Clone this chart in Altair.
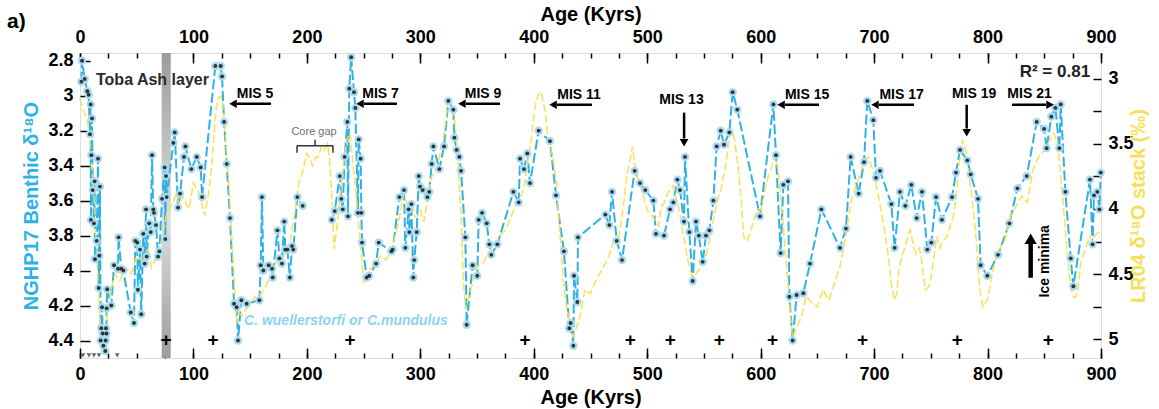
import altair as alt
import pandas as pd

# ---------------- data ----------------
blue_age = [1.2, 1.8, 4.1, 6.5, 7.6, 8.8, 9.4, 9.6, 10.0, 10.6, 11.2, 12.3, 12.9, 13.2, 14.7, 15.9, 16.5, 17.0, 17.6,
            18.2, 18.8, 19.4, 20.0, 20.6, 22.3, 22.6, 22.9, 23.3, 23.5, 24.0, 27.6, 30.0, 33.5, 34.0, 36.4, 38.2,
            44.7, 47.6, 48.8, 50.5, 51.0, 52.9, 54.0, 55.8, 57.0, 58.2, 58.8, 61.0, 62.3, 63.5, 64.6, 65.2, 67.0,
            68.8, 70.0, 72.3, 74.6, 75.2, 75.8, 76.4, 82.3, 83.5, 86.4, 88.2, 91.7, 92.9, 98.1, 102.9, 106.4, 107.6,
            119.3, 124.0, 125.2, 127.0, 129.3, 132.2, 135.8, 138.1, 139.3, 142.2, 146.9, 158.1, 159.3, 160.4, 161.6,
            166.3, 169.3, 169.9, 174.0, 175.8, 178.0, 180.0, 181.0, 182.8, 185.0, 186.9, 188.0, 191.6, 196.3,
            222.0, 224.5, 229.0, 230.4, 231.6, 233.3, 235.7, 236.2, 237.4, 239.0, 241.5, 242.7, 245.0, 245.7, 247.4,
            248.0, 248.6, 252.7, 255.0, 261.0, 263.3, 274.5, 275.6, 281.5, 285.6, 286.8, 289.7, 290.3, 292.1, 293.8,
            294.6, 296.8, 298.6, 299.7, 302.1, 306.2, 307.9, 310.0, 311.5, 316.8, 320.9, 324.7, 329.1, 330.0, 332.0,
            334.4, 335.9, 339.7, 340.8, 346.1, 350.2, 351.4, 354.4, 358.5, 360.8, 362.6, 367.9, 382.0, 386.7, 387.9,
            391.4, 394.3, 396.7, 404.3, 414.3, 419.6, 426.6, 431.3, 432.5, 434.9, 435.5, 438.4, 439.0, 463.1, 466.6,
            469.0, 473.1, 477.8, 488.9, 493.6, 498.3, 505.4, 507.7, 514.8, 520.1, 523.0, 526.6, 528.9, 532.4, 533.3,
            537.1, 540.1, 543.0, 545.4, 548.9, 551.8, 554.8, 558.3, 561.2, 564.8, 567.7, 572.4, 575.3, 579.4, 599.4,
            611.2, 613.5, 617.6, 620.0, 624.1, 625.3, 628.2, 631.7, 637.6, 643.5, 653.5, 669.9, 675.2, 679.3, 686.4,
            691.1, 694.0, 699.3, 701.7, 705.2, 715.2, 718.1, 722.8, 727.5, 732.8, 737.5, 742.2, 746.9, 750.4, 754.6,
            759.8, 768.7, 772.2, 775.7, 782.2, 785.1, 791.6, 793.9, 799.8, 809.2, 819.2, 826.3, 834.5, 843.3, 849.8,
            852.1, 856.2, 859.8, 863.3, 864.5, 868.6, 873.3, 875.6, 890.3, 892.6, 893.8, 896.8, 898.6, 899.8]
blue_val = [2.92, 2.80, 2.905, 2.975, 2.995, 3.22, 3.05, 3.71, 3.34, 3.13, 3.54, 3.73, 3.49, 3.935, 3.83, 3.36, 4.10,
            3.915, 3.52, 4.40, 4.33, 4.21, 4.36, 4.43, 4.46, 4.40, 4.33, 4.36, 4.216, 4.107, 4.20, 3.97, 3.99, 3.81,
            3.99, 4.00, 4.24, 4.30, 3.83, 3.84, 4.11, 3.88, 4.25, 3.79, 3.96, 3.65, 3.92, 3.73, 3.78, 3.34, 3.65,
            3.67, 3.74, 3.92, 3.89, 3.59, 3.41, 3.82, 3.46, 3.58, 3.27, 3.21, 3.64, 3.56, 3.35, 3.29, 3.42, 3.35,
            3.41, 3.58, 2.83, 2.83, 2.89, 3.15, 3.39, 3.70, 4.19, 4.21, 4.40, 4.17, 4.19, 4.17, 3.97, 3.58, 4.00,
            3.97, 3.99, 4.04, 3.77, 3.93, 3.96, 3.72, 3.88, 3.88, 4.04, 3.86, 3.88, 3.58, 3.63,
            3.71, 3.66, 3.46, 3.59, 3.65, 3.35, 3.15, 3.69, 2.96, 2.78, 2.98, 3.07, 3.67, 3.25, 3.36, 3.67, 3.84,
            4.04, 4.03, 3.96, 3.84, 3.89, 3.88, 3.58, 3.54, 3.87, 3.65, 3.78, 3.62, 4.04, 3.94, 3.78, 3.46, 3.52,
            3.54, 3.58, 3.55, 3.39, 3.29, 3.42, 3.29, 3.03, 3.08, 3.24, 3.31, 3.35, 3.43, 3.81, 4.31, 3.97, 4.03,
            3.71, 3.67, 3.73, 3.85, 3.91, 3.85, 3.55, 3.61, 3.36, 3.42, 3.33, 3.50, 3.20, 3.26, 3.57, 3.89, 4.33,
            4.30, 4.43, 4.03, 4.18, 3.81, 3.68, 3.74, 3.55, 3.83, 3.94, 3.43, 3.50, 3.54, 3.60, 3.79, 3.80, 3.65,
            3.61, 3.48, 3.54, 3.72, 3.35, 3.78, 4.06, 3.72, 3.80, 3.95, 3.80, 3.77, 3.60, 3.29, 3.20, 3.28, 3.21,
            2.98, 3.08, 3.69, 3.05, 3.34, 3.90, 3.51, 3.49, 4.15, 4.40, 4.14, 4.13, 3.96, 3.65, 3.87, 3.76, 3.35,
            3.56, 3.38, 3.03, 3.14, 3.47, 3.43, 3.62, 3.87, 3.55, 3.63, 3.51, 3.70, 3.55, 3.88, 3.84, 3.58, 3.71,
            3.58, 3.44, 3.31, 3.37, 3.45, 3.59, 3.97, 4.03, 3.91, 3.73, 3.53, 3.46, 3.15, 3.19, 3.30, 3.12, 3.07,
            3.30, 3.05, 3.55, 3.93, 4.09, 3.48, 3.85, 3.57, 3.55, 3.65, 3.44]

lr04_age = [0, 3, 6, 9, 12, 15, 18, 20, 22, 25, 28, 31, 35, 40, 45, 50, 55, 60, 63, 65, 68, 70, 73, 76, 79, 82, 85,
            88, 90, 93, 96, 100, 103, 106, 110, 113, 116, 118, 120, 122, 124, 126, 128, 130, 132, 134, 136, 138,
            140, 143, 146, 150, 155, 160, 165, 170, 175, 180, 185, 188, 190, 193, 196, 200, 203, 205, 208, 210,
            213, 215, 218, 220, 222, 224, 227, 230, 233, 235, 238, 240, 243, 245, 248, 250, 253, 255, 260, 265,
            270, 275, 278, 280, 283, 285, 288, 290, 293, 295, 298, 300, 303, 305, 308, 310, 313, 315, 318, 320,
            322, 324, 326, 328, 330, 332, 334, 336, 338, 340, 342, 345, 348, 350, 355, 360, 365, 370, 375, 380,
            385, 390, 393, 395, 398, 400, 402, 404, 406, 408, 410, 412, 415, 417, 420, 422, 424, 426, 428, 430,
            432, 435, 438, 440, 442, 445, 450, 455, 460, 465, 470, 475, 478, 480, 482, 484, 487, 490, 493, 495,
            500, 505, 510, 512, 515, 518, 520, 523, 525, 528, 530, 533, 535, 538, 540, 543, 545, 550, 555, 558,
            560, 563, 565, 568, 570, 573, 575, 577, 580, 583, 585, 588, 590, 595, 598, 600, 603, 605, 608, 610,
            613, 616, 618, 620, 622, 624, 626, 628, 630, 632, 636, 640, 645, 650, 655, 660, 665, 670, 675, 680,
            685, 690, 693, 695, 698, 700, 705, 710, 713, 715, 718, 720, 722, 725, 727, 730, 732, 735, 737, 740,
            742, 745, 748, 750, 753, 755, 758, 760, 765, 768, 770, 773, 775, 778, 780, 782, 786, 788, 790, 792,
            794, 796, 798, 800, 802, 806, 810, 815, 820, 825, 830, 835, 838, 840, 845, 850, 853, 855, 858, 860,
            862, 864, 866, 868, 870, 872, 874, 876, 878, 880, 882, 886, 890, 893, 895, 898, 900]
lr04_val = [3.15, 3.25, 3.30, 3.50, 3.85, 4.40, 4.90, 5.05, 4.95, 4.75, 4.60, 4.50, 4.55, 4.45, 4.50, 4.36, 4.40,
            4.30, 4.45, 4.42, 4.35, 4.31, 4.20, 4.05, 4.00, 3.95, 3.88, 4.00, 3.90, 3.95, 4.00, 3.80, 3.85, 3.90,
            4.05, 3.90, 3.67, 3.45, 3.23, 3.15, 3.13, 3.20, 3.42, 3.65, 3.93, 4.25, 4.55, 4.88, 4.80, 4.82, 4.77,
            4.72, 4.67, 4.65, 4.57, 4.47, 4.36, 4.36, 4.26, 4.10, 3.98, 3.80, 3.72, 3.57, 3.62, 3.67, 3.60, 3.60,
            3.52, 3.55, 3.50, 3.62, 3.90, 4.31, 4.10, 3.85, 3.60, 3.47, 3.42, 3.60, 3.85, 4.06, 4.35, 4.57, 4.50,
            4.47, 4.42, 4.36, 4.39, 4.31, 4.20, 4.13, 4.00, 3.88, 3.95, 4.01, 3.95, 4.06, 4.05, 4.01, 4.10, 4.00,
            3.85, 3.75, 3.72, 3.67, 3.55, 3.49, 3.35, 3.21, 3.18, 3.23, 3.30, 3.49, 3.75, 4.06, 4.57, 4.77, 4.70,
            4.60, 4.50, 4.44, 4.42, 4.34, 4.28, 4.21, 4.16, 4.06, 3.95, 3.88, 3.75, 3.62, 3.45, 3.29, 3.18, 3.12,
            3.10, 3.16, 3.25, 3.42, 3.52, 3.62, 3.80, 4.05, 4.31, 4.55, 4.70, 4.80, 4.88, 4.98, 4.90, 4.85, 4.77,
            4.62, 4.65, 4.54, 4.47, 4.39, 4.26, 4.21, 4.05, 3.90, 3.75, 3.67, 3.52, 3.72, 3.80, 3.85, 4.01, 4.06,
            4.13, 4.00, 3.95, 3.88, 3.85, 3.82, 3.90, 4.00, 4.11, 4.25, 4.36, 4.48, 4.52, 4.50, 4.47, 4.42, 4.24,
            4.10, 4.01, 3.90, 3.85, 3.72, 3.62, 3.42, 3.40, 3.47, 3.67, 3.95, 4.21, 4.25, 4.20, 4.06, 4.00, 4.01,
            3.90, 3.80, 3.72, 3.67, 3.55, 3.75, 3.95, 4.13, 4.35, 4.57, 4.80, 4.98, 4.95, 4.90, 4.83, 4.67, 4.72,
            4.75, 4.62, 4.70, 4.57, 4.44, 4.21, 3.93, 3.80, 3.67, 3.62, 3.60, 3.68, 3.75, 3.95, 4.21, 4.40, 4.57,
            4.70, 4.65, 4.45, 4.35, 4.30, 4.20, 4.16, 4.30, 4.34, 4.30, 4.40, 4.62, 4.60, 4.54, 4.35, 4.21, 4.30,
            4.26, 4.20, 4.10, 4.06, 3.85, 3.65, 3.47, 3.52, 3.62, 3.90, 4.05, 4.24, 4.50, 4.67, 4.75, 4.72, 4.70,
            4.60, 4.42, 4.31, 4.25, 4.06, 3.98, 3.90, 3.95, 3.80, 3.70, 3.60, 3.55, 3.50, 3.47, 3.42, 3.45, 3.52,
            3.70, 3.88, 4.10, 4.31, 4.50, 4.62, 4.68, 4.67, 4.60, 4.42, 4.31, 4.21, 4.25, 4.20, 4.18, 4.16]

x_major = [0, 100, 200, 300, 400, 500, 600, 700, 800, 900]
x_minor = list(range(0, 901, 25))
left_ticks = [2.8, 3.0, 3.2, 3.4, 3.6, 3.8, 4.0, 4.2, 4.4]
right_ticks = [3.0, 3.25, 3.5, 3.75, 4.0, 4.25, 4.5, 4.75, 5.0]

toba_band = [72.0, 80.0]

mis_text = ["MIS 5", "MIS 7", "MIS 9", "MIS 11", "MIS 13", "MIS 15", "MIS 17", "MIS 19", "MIS 21"]
mis_text_age = [154.3, 264.9, 355.3, 439.9, 530.2, 640.9, 724.2, 788.1, 837.0]
mis_text_val = [2.99, 2.99, 2.99, 2.995, 3.023, 2.995, 2.995, 2.99, 2.99]

arrow_tail_age = [168.4, 279.4, 370.2, 451.3, 532.5, 651.4, 735.2, 781.6, 821.6]
arrow_head_age = [134.9, 246.8, 336.7, 417.0, 532.5, 618.0, 700.8, 781.6, 855.1]
arrow_tail_val = [3.046, 3.046, 3.046, 3.052, 3.097, 3.052, 3.052, 3.052, 3.052]
arrow_head_val = [3.046, 3.046, 3.046, 3.052, 3.269, 3.052, 3.052, 3.212, 3.052]

plus_age = [75.8, 117.3, 238.0, 392.2, 485.0, 520.3, 563.5, 610.4, 689.8, 773.4, 853.6]
plus_val = 4.397
tri_age = [2.6, 7.9, 12.3, 16.7, 32.8]
tri_val = 4.485

# ---------------- styling ----------------
FONT = "Liberation Sans"
BLUE = "#2eb2e6"
YELLOW = "#f8df4c"
W, H = 1021, 305

X = alt.Scale(domain=[0, 900], nice=False, zero=False)
YL = alt.Scale(domain=[2.756, 4.5], reverse=True, nice=False, zero=False)
YR = alt.Scale(domain=[2.803, 5.144], reverse=True, nice=False, zero=False)


def ax(**kw):
    base = dict(domain=False, grid=False, tickColor="black", tickWidth=1.5, labelColor="black",
                labelFont=FONT, labelFontSize=18, labelFontWeight="bold", labelOverlap=False,
                labelFlush=False, titleFont=FONT, titleFontWeight="bold", titleColor="black")
    base.update(kw)
    return alt.Axis(**base)


blue_df = pd.DataFrame({"age": blue_age, "val": blue_val})
blue_df["seg"] = (blue_df["age"] > 200).astype(int)
lr_df = pd.DataFrame({"age": lr04_age, "val": lr04_val})

# Toba band
band = alt.Chart(pd.DataFrame({"a": [toba_band[0]], "b": [toba_band[1]]})).mark_rect(
    fill=alt.Gradient(gradient="linear", x1=0, x2=0, y1=0, y2=1,
                      stops=[alt.GradientStop(color="#9c9c9c", offset=0),
                             alt.GradientStop(color="#dedede", offset=0.55),
                             alt.GradientStop(color="#9c9c9c", offset=1)])
).encode(x=alt.X("a:Q", scale=X, axis=None), x2="b:Q", y=alt.value(0), y2=alt.value(H))

blue_line = alt.Chart(blue_df).mark_line(color=BLUE, strokeWidth=2, strokeDash=[10, 3.5]).encode(
    x=alt.X("age:Q", scale=X, axis=ax(orient="bottom", values=x_major, offset=-10, tickSize=10,
                                      labelPadding=7, title="Age (Kyrs)", titleFontSize=20, titlePadding=4)),
    y=alt.Y("val:Q", scale=YL, axis=ax(orient="left", values=left_ticks, format="~g", offset=-10, tickSize=10,
                                       labelPadding=7, title="NGHP17 Benthic δ¹⁸O", titleColor=BLUE,
                                       titleFontSize=20, titlePadding=6)),
    detail="seg:N", order="age:Q")

yellow_line = alt.Chart(lr_df).mark_line(color=YELLOW, strokeWidth=1.6, strokeDash=[8, 3], opacity=0.9).encode(
    x=alt.X("age:Q", scale=X, axis=ax(orient="top", values=x_major, offset=-10, tickSize=10,
                                      labelPadding=7, title="Age (Kyrs)", titleFontSize=20, titlePadding=4)),
    y=alt.Y("val:Q", scale=YR, axis=ax(orient="right", values=right_ticks, format="~g", offset=-8, tickSize=8,
                                       labelPadding=7,
                                       labelExpr="datum.value % 0.5 == 0 ? datum.label : ''",
                                       title="LR04 δ¹⁸O stack (‰)", titleColor="#f7df58", titleAngle=270,
                                       titleFontSize=20, titlePadding=15)),
    order="age:Q")

halo = alt.Chart(blue_df).mark_circle(size=70, color="#a6dbf2", opacity=1).encode(
    x=alt.X("age:Q", scale=X, axis=None), y=alt.Y("val:Q", scale=YL, axis=None))
dots = alt.Chart(blue_df).mark_circle(size=15, color="#333333", opacity=1).encode(
    x=alt.X("age:Q", scale=X, axis=None), y=alt.Y("val:Q", scale=YL, axis=None))

minor_bottom = alt.Chart(blue_df).mark_point(opacity=0).encode(
    x=alt.X("age:Q", scale=X, axis=ax(orient="bottom", values=x_minor, offset=-5, tickSize=5,
                                      labels=False, title="")))
minor_top = alt.Chart(blue_df).mark_point(opacity=0).encode(
    x=alt.X("age:Q", scale=X, axis=ax(orient="top", values=x_minor, offset=-5, tickSize=5,
                                      labels=False, title="")))


def text_layer(df, **mk):
    return alt.Chart(df).mark_text(font=FONT, **mk).encode(
        x=alt.X("age:Q", scale=X, axis=None), y=alt.Y("val:Q", scale=YL, axis=None), text="t:N")


toba_txt = text_layer(pd.DataFrame({"age": [14.1], "val": [2.909], "t": ["Toba Ash layer"]}),
                      align="left", baseline="middle", fontSize=16, fontWeight="bold", color="#2a2a2a")
mis_txt = text_layer(pd.DataFrame({"age": mis_text_age, "val": mis_text_val, "t": mis_text}),
                     align="center", baseline="middle", fontSize=14, fontWeight="bold", color="black")
r2_txt = text_layer(pd.DataFrame({"age": [890.4], "val": [2.866], "t": ["R² = 0.81"]}),
                    align="right", baseline="middle", fontSize=17, fontWeight="bold", color="#222")
ice_txt = text_layer(pd.DataFrame({"age": [850.7], "val": [3.947], "t": ["Ice minima"]}),
                     align="center", baseline="middle", fontSize=14, fontWeight="bold", color="black", angle=270)
sp_txt = text_layer(pd.DataFrame({"age": [144.6], "val": [4.288], "t": ["C. wuellerstorfi or C.mundulus"]}),
                    align="left", baseline="middle", fontSize=14, fontWeight="bold", fontStyle="italic",
                    color="#8dd3f1")
gap_txt = text_layer(pd.DataFrame({"age": [206.3], "val": [3.209], "t": ["Core gap"]}),
                     align="center", baseline="middle", fontSize=11, color="#707070")
plus_txt = text_layer(pd.DataFrame({"age": plus_age, "val": [plus_val] * len(plus_age), "t": ["+"] * len(plus_age)}),
                      align="center", baseline="middle", fontSize=19, fontWeight="bold", color="black")

a_lbl = alt.Chart(pd.DataFrame({"t": ["a)"]})).mark_text(
    font=FONT, fontSize=21, fontWeight="bold", align="left", baseline="alphabetic", color="black"
).encode(x=alt.value(-73), y=alt.value(-25), text="t:N")

# arrows
arr = pd.DataFrame({"x1": arrow_tail_age, "x2": arrow_head_age, "y1": arrow_tail_val, "y2": arrow_head_val})
sx = (arr["x1"] - arr["x2"]).apply(lambda d: 0 if d == 0 else (1 if d > 0 else -1))
sy = (arr["y1"] - arr["y2"]).apply(lambda d: 0 if d == 0 else (1 if d > 0 else -1))
arr["hx"] = arr["x2"] + sx * 3.5
arr["hy"] = arr["y2"] + sy * 0.024
arr["shape"] = ["triangle-left" if a == 1 else "triangle-right" if a == -1 else
                ("triangle-down" if b == -1 else "triangle-up") for a, b in zip(sx, sy)]

arrow_lines = alt.Chart(arr).mark_rule(color="black", strokeWidth=2.5).encode(
    x=alt.X("x1:Q", scale=X, axis=None), x2="hx:Q",
    y=alt.Y("y1:Q", scale=YL, axis=None), y2="hy:Q")
arrow_heads = alt.Chart(arr).mark_point(filled=True, color="black", size=75, opacity=1).encode(
    x=alt.X("x2:Q", scale=X, axis=None), y=alt.Y("y2:Q", scale=YL, axis=None),
    shape=alt.Shape("shape:N", scale=None))

ice = pd.DataFrame({"x": [838.0], "y1": [4.041], "y2": [3.818]})
ice_line = alt.Chart(ice).mark_rule(color="black", strokeWidth=4.5).encode(
    x=alt.X("x:Q", scale=X, axis=None), y=alt.Y("y1:Q", scale=YL, axis=None), y2="y2:Q")
ice_head = alt.Chart(ice).mark_point(filled=True, color="black", size=150, opacity=1, shape="triangle-up").encode(
    x=alt.X("x:Q", scale=X, axis=None), y=alt.Y("y2:Q", scale=YL, axis=None))

# core gap bracket
br = pd.DataFrame({"x1": [191.3, 191.3, 223.0, 207.2], "x2": [223.0, 191.3, 223.0, 207.2],
                   "y1": [3.286, 3.286, 3.286, 3.286], "y2": [3.286, 3.326, 3.326, 3.252]})
bracket = alt.Chart(br).mark_rule(color="#333", strokeWidth=1.5).encode(
    x=alt.X("x1:Q", scale=X, axis=None), x2="x2:Q", y=alt.Y("y1:Q", scale=YL, axis=None), y2="y2:Q")

tri = alt.Chart(pd.DataFrame({"age": tri_age, "val": [tri_val] * len(tri_age)})).mark_point(
    shape="triangle-down", filled=True, color="#666", size=22, opacity=1).encode(
    x=alt.X("age:Q", scale=X, axis=None), y=alt.Y("val:Q", scale=YL, axis=None))

chart = alt.layer(
    band, blue_line, yellow_line, halo, dots, minor_bottom, minor_top,
    toba_txt, mis_txt, r2_txt, ice_txt, sp_txt, gap_txt, plus_txt, a_lbl,
    arrow_lines, arrow_heads, ice_line, ice_head, bracket, tri
).resolve_scale(y="independent").resolve_axis(x="independent", y="independent").properties(
    width=W, height=H,
    autosize=alt.AutoSizeParams(type="none"),
    padding={"left": 80, "top": 53, "right": 58, "bottom": 51},
).configure_view(stroke="black", strokeWidth=2).configure(background="white")

chart.save("out.html", embed_options={"renderer": "svg", "actions": False})
